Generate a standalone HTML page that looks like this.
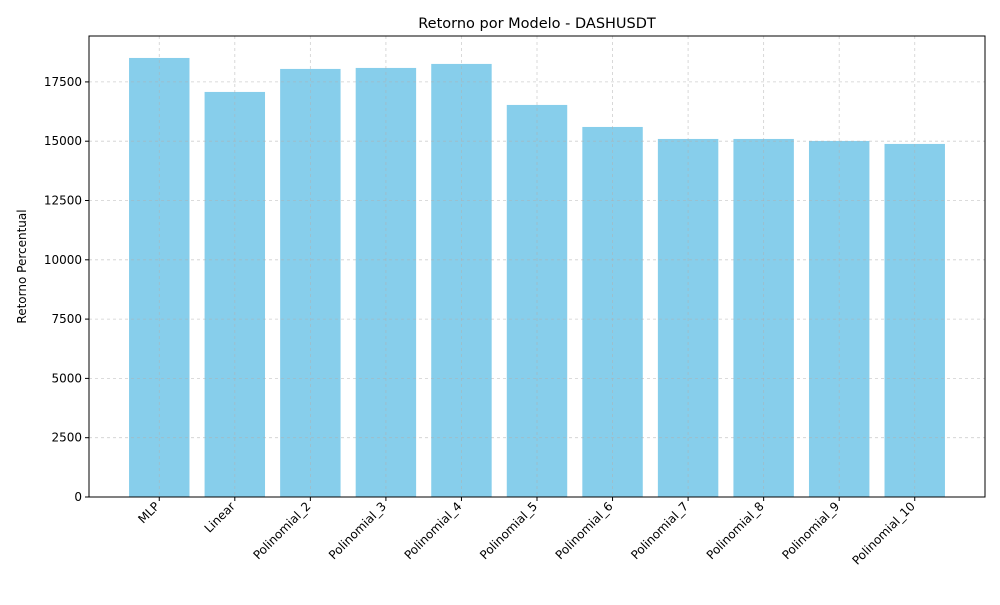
<!DOCTYPE html>
<html><head><meta charset="utf-8"><style>
body{margin:0;background:#fff;font-family:"Liberation Sans","DejaVu Sans",sans-serif;}
svg text{font-family:"DejaVu Sans","Liberation Sans",sans-serif;}
</style></head><body>
<svg id="chart" width="1000" height="600" xmlns="http://www.w3.org/2000/svg"></svg>
<script>
const categories=["MLP","Linear","Polinomial_2","Polinomial_3","Polinomial_4","Polinomial_5","Polinomial_6","Polinomial_7","Polinomial_8","Polinomial_9","Polinomial_10"];
const values=[18510,17077,18047,18089,18258,16529,15601,15095,15095,15011,14885];
const yTicks=[0,2500,5000,7500,10000,12500,15000,17500];
const svg=document.getElementById('chart');
const NS='http://www.w3.org/2000/svg';
const L=89,R=985,T=36,B=497;
const n=categories.length;
const pad=0.93;
const xmin=-pad, xmax=n-1+pad;
const ymax=Math.max(...values)*1.05;
function x(i){return L+(i-xmin)/(xmax-xmin)*(R-L);}
function y(v){return B-v/ymax*(B-T);}
function el(tag,attrs,txt){const e=document.createElementNS(NS,tag);for(const k in attrs)e.setAttribute(k,attrs[k]);if(txt!==undefined)e.textContent=txt;svg.appendChild(e);return e;}
const bw=(x(0.8)-x(0));
values.forEach((v,i)=>{
 const r=el('rect',{x:x(i)-bw/2,y:y(v),width:bw,height:B-y(v),fill:'#87ceeb'});
 
 
});
yTicks.forEach(t=>{
 const g=el('line',{x1:L,x2:R,y1:y(t),y2:y(t),stroke:'#b0b0b0','stroke-width':0.8,'stroke-dasharray':'3,3',opacity:0.6});
 
 
 el('line',{x1:L-4,x2:L,y1:y(t),y2:y(t),stroke:'#000'});
 const tx=el('text',{x:L-7,y:y(t)+4,'text-anchor':'end','font-size':12},t);
 
 
});
categories.forEach((c,i)=>{
 const g=el('line',{x1:x(i),x2:x(i),y1:T,y2:B,stroke:'#b0b0b0','stroke-width':0.8,'stroke-dasharray':'3,3',opacity:0.6});
 
 
 el('line',{x1:x(i),x2:x(i),y1:B,y2:B+4,stroke:'#000'});
 const ax=x(i)+1, ay=B+10;
 const tx=el('text',{x:ax,y:ay,'text-anchor':'end','font-size':12,transform:`rotate(-45 ${ax} ${ay})`},c);
 
 
});
const fr=el('rect',{x:L,y:T,width:R-L,height:B-T,fill:'none',stroke:'#000','stroke-width':1});


const ti=el('text',{x:(L+R)/2,y:28,'text-anchor':'middle','font-size':14.5},'Retorno por Modelo - DASHUSDT');


const yt=el('text',{x:26,y:(T+B)/2,'text-anchor':'middle','font-size':12,transform:`rotate(-90 26 ${(T+B)/2})`},'Retorno Percentual');


</script>
</body></html>
